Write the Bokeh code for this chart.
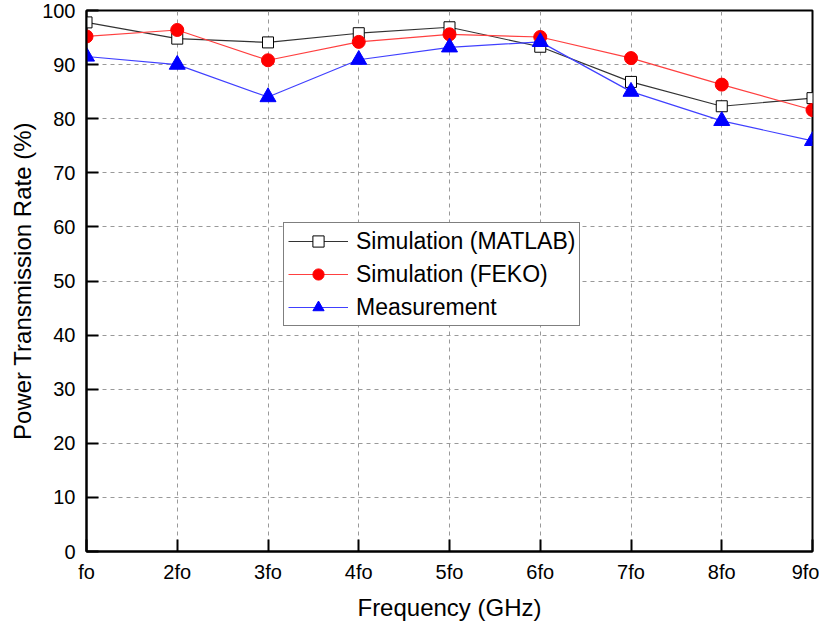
from bokeh.plotting import figure
from bokeh.models import Range1d, FixedTicker, Legend, LegendItem
from bokeh.embed import file_html
from bokeh.resources import INLINE

labels = ["fo", "2fo", "3fo", "4fo", "5fo", "6fo", "7fo", "8fo", "9fo"]
xs = [1, 2, 3, 4, 5, 6, 7, 8, 9]
matlab = [97.8, 94.8, 94.1, 95.8, 96.9, 93.3, 86.8, 82.3, 83.8]
feko = [95.2, 96.4, 90.8, 94.2, 95.6, 95.1, 91.2, 86.3, 81.6]
meas = [91.5, 90.0, 84.0, 90.9, 93.2, 94.2, 85.0, 79.6, 75.9]
yticks = [0, 10, 20, 30, 40, 50, 60, 70, 80, 90, 100]

FONT = "Liberation Sans"

p = figure(width=819, height=623, output_backend="svg", toolbar_location=None,
           x_range=Range1d(1, 9), y_range=Range1d(0, 100),
           min_border_left=86, min_border_right=7, min_border_top=10, min_border_bottom=71)

p.outline_line_color = "black"
p.outline_line_width = 2
p.outline_line_alpha = 1

for ax in (p.xaxis[0], p.yaxis[0]):
    ax.axis_line_width = 2
    ax.axis_line_color = "black"
    ax.major_tick_in = 12
    ax.major_tick_out = 0
    ax.major_tick_line_width = 2
    ax.minor_tick_line_color = None
    ax.major_label_text_font = FONT
    ax.major_label_text_font_size = "20px"
    ax.major_label_text_color = "black"
    ax.axis_label_text_font = FONT
    ax.axis_label_text_font_size = "24px"
    ax.axis_label_text_font_style = "normal"
    ax.axis_label_text_color = "black"

p.xaxis.ticker = FixedTicker(ticks=xs)
p.xaxis.major_label_overrides = {x: l for x, l in zip(xs, labels)}
p.yaxis.ticker = FixedTicker(ticks=yticks)
p.xaxis.axis_label = "Frequency (GHz)"
p.yaxis.axis_label = "Power Transmission Rate (%)"
p.xaxis.major_label_standoff = 9
p.yaxis.major_label_standoff = 11
p.xaxis.axis_label_standoff = 8
p.yaxis.axis_label_standoff = 3

for g in (p.xgrid[0], p.ygrid[0]):
    g.grid_line_color = "#999999"
    g.grid_line_dash = "4 4"
    g.grid_line_width = 1

l1 = p.line(xs, matlab, line_color="#333333", line_width=1.2)
m1 = p.scatter(xs, matlab, marker="square", size=11, fill_color="white", line_color="black", line_width=1)
l2 = p.line(xs, feko, line_color="#ff4040", line_width=1.2)
m2 = p.scatter(xs, feko, marker="circle", size=13, fill_color="red", line_color="red")
l3 = p.line(xs, meas, line_color="#4040ff", line_width=1.2)
m3 = p.scatter(xs, meas, marker="triangle", size=16, fill_color="blue", line_color="blue")

legend = Legend(items=[
    LegendItem(label="Simulation (MATLAB)", renderers=[l1, m1]),
    LegendItem(label="Simulation (FEKO)", renderers=[l2, m2]),
    LegendItem(label="Measurement", renderers=[l3, m3]),
], location=(197, 225))
legend.label_text_font = FONT
legend.label_text_font_size = "23px"
legend.label_text_color = "black"
legend.glyph_width = 60
legend.glyph_height = 28
legend.label_height = 28
legend.label_standoff = 8
legend.spacing = 5
legend.padding = 4
legend.margin = 0
legend.border_line_color = "black"
legend.border_line_width = 1.5
legend.background_fill_alpha = 1
p.add_layout(legend)

open("out.html", "w").write(file_html(p, INLINE))
